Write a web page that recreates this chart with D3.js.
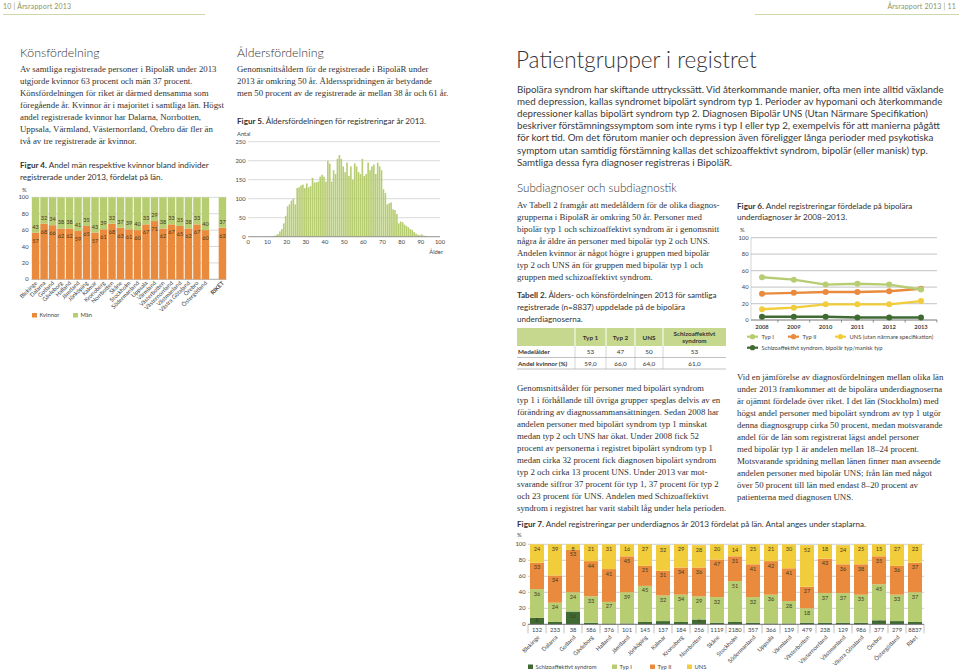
<!DOCTYPE html>
<html><head><meta charset="utf-8">
<script src="https://cdn.jsdelivr.net/npm/d3@7"></script>
<style>
body{margin:0;background:#fff}
svg{display:block}
.serif{font-family:"Liberation Serif","DejaVu Serif",serif;font-size:8.8px;fill:#333}
.h2{font-family:Lato,"Open Sans",sans-serif;font-weight:300;font-size:12.3px;fill:#333}
.h1{font-family:Lato,"Open Sans",sans-serif;font-weight:300;font-size:22.5px;fill:#333}
.body{font-family:Lato,"Open Sans",sans-serif;font-size:9.75px;fill:#3a3a3a}
.figt{font-family:Lato,"Open Sans",sans-serif;font-size:8.1px;fill:#333}
.ax{font-family:Lato,"Open Sans",sans-serif;font-size:5.8px;fill:#444}
.lab{font-family:Lato,"Open Sans",sans-serif;font-size:5.6px;fill:#4a3a20}
.hdr{font-family:Lato,"Open Sans",sans-serif;font-size:7px;fill:#8a9466;letter-spacing:0.2px}
.tab{font-family:Lato,"Open Sans",sans-serif;font-size:6.3px;fill:#333}
</style>
</head><body>
<svg id="c" width="959" height="671"></svg>
<script>
// ---------- DATA ----------
const lan4 = ["Blekinge","Dalarna","Gotland","Gävleborg","Halland","Jämtland","Jönköping","Kalmar","Kronoberg","Norrbotten","Skåne","Stockholm","Södermanland","Uppsala","Värmland","Västerbotten","Västernorrland","Västmanland","Västra Götaland","Örebro","Östergötland","RIKET"];
const kvinnor = [57,68,66,62,62,59,65,57,61,68,63,61,60,67,71,62,67,65,62,67,60,63];
const man = [43,32,34,38,38,41,35,43,39,32,37,39,40,33,29,38,33,35,38,33,40,37];
const pctTicks = [0,20,40,60,80,100];

const ageCounts = [0,0,0,0,0,0,0,0,0,0,0,1,1,2,4,7,14,20,35,55,80,
  85,95,100,85,128,130,135,137,128,140,
  130,133,155,143,143,145,158,163,158,145,
  200,192,145,175,165,205,215,205,185,170,
  195,160,185,150,193,185,170,165,205,160,
  165,195,175,185,190,165,195,185,175,125,
  115,85,88,90,72,70,60,35,40,38,
  32,28,25,20,18,12,8,5,4,6,
  3,2,1,0,0,0,0,0,0];
const ageTicks = [0,10,20,30,40,50,60,70,80,90,100];
const antalTicks = [0,50,100,150,200,250];

const years = [2008,2009,2010,2011,2012,2013];
const typI6 = [52,49,43,44,43,37];
const typII6 = [32,33,34,34,35,38];
const uns6 = [13,15,19,19,19,23];
const schizo6 = [4,4,4,3,3,3];

const lan7 = ["Blekinge","Dalarna","Gotland","Gävleborg","Halland","Jämtland","Jönköping","Kalmar","Kronoberg","Norrbotten","Skåne","Stockholm","Södermanland","Uppsala","Värmland","Västerbotten","Västernorrland","Västmanland","Västra Götaland","Örebro","Östergötland","Riket"];
const antal7 = [132,233,38,586,376,101,145,137,184,256,1119,2180,357,366,139,479,238,129,986,377,279,8837];
const schizo7 = [8,3,16,2,1,1,3,4,3,6,2,3,2,1,1,2,2,2,2,5,4,3];
const typI7 = [36,24,24,33,27,39,45,32,34,29,32,51,32,36,28,18,37,37,35,45,33,37];
const typII7 = [33,34,53,44,41,45,25,31,34,36,47,31,41,42,41,27,43,36,38,35,36,37];
const uns7 = [24,39,8,21,31,16,27,32,29,28,20,14,25,21,30,52,18,24,25,15,27,23];

const tabCols = ["Typ 1","Typ 2","UNS","Schizoaffektivt syndrom"];
const tabRows = ["Medelålder","Andel kvinnor (%)"];
const tabVals = [["53","47","50","53"],["59,0","66,0","64,0","61,0"]];

// ---------- COLOURS ----------
const cOrange = "#e98a3c", cGreen = "#b7cd72", cYellow = "#f2cd3b", cDark = "#3f6b33";
const cGrid = "#cfcfcf";

const svg = d3.select("#c");

function lines(x, y, lh, arr, cls){
  arr.forEach((t,i)=>svg.append("text").attr("class",cls).attr("x",x).attr("y",y+i*lh).text(t));
}
function figTitle(x, y, lh, bold, arr){
  arr.forEach((t,i)=>{
    const tx = svg.append("text").attr("class","figt").attr("x",x).attr("y",y+i*lh);
    if(i===0){ tx.append("tspan").attr("font-weight","bold").text(bold); }
    tx.append("tspan").text(t);
  });
}

// ---------- HEADER ----------
svg.append("text").attr("class","hdr").attr("x",3).attr("y",9).text("10 | Årsrapport 2013");
svg.append("text").attr("class","hdr").attr("x",956).attr("y",9).attr("text-anchor","end").text("Årsrapport 2013 | 11");
svg.append("line").attr("x1",3).attr("x2",205).attr("y1",14.5).attr("y2",14.5).attr("stroke","#cdd9a8").attr("stroke-width",1);
svg.append("line").attr("x1",755).attr("x2",959).attr("y1",14.5).attr("y2",14.5).attr("stroke","#cdd9a8").attr("stroke-width",1);

// ---------- LEFT COLUMN ----------
svg.append("text").attr("class","h2").attr("x",20).attr("y",56.5).text("Könsfördelning");
lines(20,72,12,[
 "Av samtliga registrerade personer i BipoläR under 2013",
 "utgjorde kvinnor 63 procent och män 37 procent.",
 "Könsfördelningen för riket är därmed densamma som",
 "föregående år. Kvinnor är i majoritet i samtliga län. Högst",
 "andel registrerade kvinnor har Dalarna, Norrbotten,",
 "Uppsala, Värmland, Västernorrland, Örebro där fler än",
 "två av tre registrerade är kvinnor."],"serif");
figTitle(20,168,12,"Figur 4.",[" Andel män respektive kvinnor bland individer","registrerade under 2013, fördelat på län."]);

(function fig4(){
  const domain = lan4.slice(0,21).concat(["__gap"], lan4.slice(21));
  const x = d3.scaleBand().domain(domain).range([31.5,226.5]).paddingInner(0.12).paddingOuter(0.04);
  const y = d3.scaleLinear().domain([0,100]).range([279.3,197.3]);
  svg.append("text").attr("class","ax").attr("x",22).attr("y",192).text("%");
  pctTicks.forEach(t=>{
    svg.append("line").attr("x1",31.5).attr("x2",226.5).attr("y1",y(t)).attr("y2",y(t)).attr("stroke",t===0?"#999":cGrid).attr("stroke-width",0.8);
    svg.append("text").attr("class","ax").attr("x",28.5).attr("y",y(t)+2).attr("text-anchor","end").text(t);
  });
  const g = svg.append("g");
  lan4.forEach((l,i)=>{
    const bx = x(l), bw = x.bandwidth();
    g.append("rect").attr("x",bx).attr("width",bw).attr("y",y(kvinnor[i])).attr("height",y(0)-y(kvinnor[i])).attr("fill",cOrange);
    g.append("rect").attr("x",bx).attr("width",bw).attr("y",y(100)).attr("height",y(kvinnor[i])-y(100)).attr("fill",cGreen);
    g.append("text").attr("class","lab").attr("x",bx+bw/2).attr("y",y(kvinnor[i])+10).attr("text-anchor","middle").text(kvinnor[i]);
    g.append("text").attr("class","lab").attr("x",bx+bw/2).attr("y",y(kvinnor[i])-4).attr("text-anchor","middle").text(man[i]);
    svg.append("text").attr("class","ax").attr("transform",`translate(${bx+bw/2+2},${283.5}) rotate(-45)`)
      .attr("text-anchor","end").attr("font-weight",l==="RIKET"?"bold":null).text(l);
  });
  svg.append("rect").attr("x",32).attr("y",313).attr("width",5).attr("height",4.5).attr("fill",cOrange);
  svg.append("text").attr("class","ax").attr("x",39.5).attr("y",317).text("Kvinnor");
  svg.append("rect").attr("x",73).attr("y",313).attr("width",5).attr("height",4.5).attr("fill",cGreen);
  svg.append("text").attr("class","ax").attr("x",80.5).attr("y",317).text("Män");
})();

// ---------- MIDDLE COLUMN ----------
svg.append("text").attr("class","h2").attr("x",237).attr("y",56.5).text("Åldersfördelning");
lines(237,72,12,[
 "Genomsnittsåldern för de registrerade i BipoläR under",
 "2013 är omkring 50 år. Åldersspridningen är betydande",
 "men 50 procent av de registrerade är mellan 38 år och 61 år."],"serif");
figTitle(237,124,12,"Figur 5.",[" Åldersfördelningen för registreringar år 2013."]);

(function fig5(){
  const x = d3.scaleLinear().domain([0,100]).range([248.3,440]);
  const y = d3.scaleLinear().domain([0,250]).range([236.7,141.7]);
  svg.append("text").attr("class","ax").attr("x",237).attr("y",136).text("Antal");
  antalTicks.forEach(t=>{
    svg.append("line").attr("x1",248.3).attr("x2",440).attr("y1",y(t)).attr("y2",y(t)).attr("stroke",cGrid).attr("stroke-width",0.8);
    svg.append("text").attr("class","ax").attr("x",245.5).attr("y",y(t)+2).attr("text-anchor","end").text(t);
  });
  const step = x(1)-x(0);
  ageCounts.forEach((v,a)=>{
    if(v<=0) return;
    svg.append("rect").attr("x",x(a)+0.15).attr("width",step-0.3).attr("y",y(v)).attr("height",y(0)-y(v)).attr("fill",cGreen);
  });
  svg.append("line").attr("x1",248.3).attr("x2",440).attr("y1",y(0)).attr("y2",y(0)).attr("stroke","#888").attr("stroke-width",0.8);
  ageTicks.forEach(t=>{
    svg.append("text").attr("class","ax").attr("x",x(t)).attr("y",244).attr("text-anchor","middle").text(t);
  });
  svg.append("text").attr("class","ax").attr("x",443).attr("y",254).attr("text-anchor","end").text("Ålder");
})();

// ---------- RIGHT PAGE ----------
svg.append("text").attr("class","h1").attr("x",516).attr("y",67.5).text("Patientgrupper i registret");
lines(517,92.5,12.2,[
 "Bipolära syndrom har skiftande uttryckssätt. Vid återkommande manier, ofta men inte alltid växlande",
 "med depression, kallas syndromet bipolärt syndrom typ 1. Perioder av hypomani och återkommande",
 "depressioner kallas bipolärt syndrom typ 2. Diagnosen Bipolär UNS (Utan Närmare Specifikation)",
 "beskriver förstämningssymptom som inte ryms i typ I eller typ 2, exempelvis för att manierna pågått",
 "för kort tid. Om det förutom manier och depression även föreligger långa perioder med psykotiska",
 "symptom utan samtidig förstämning kallas det schizoaffektivt syndrom, bipolär (eller manisk) typ.",
 "Samtliga dessa fyra diagnoser registreras i BipoläR."],"body");

svg.append("text").attr("class","h2").attr("x",517).attr("y",192).attr("font-size","11.6px").style("font-size","11.6px").text("Subdiagnoser och subdiagnostik");
lines(517,208,12,[
 "Av Tabell 2 framgår att medelåldern för de olika diagnos-",
 "grupperna i BipoläR är omkring 50 år. Personer med",
 "bipolär typ 1 och schizoaffektivt syndrom är i genomsnitt",
 "några år äldre än personer med bipolär typ 2 och UNS.",
 "Andelen kvinnor är något högre i gruppen med bipolär",
 "typ 2 och UNS än för gruppen med bipolär typ 1 och",
 "gruppen med schizoaffektivt syndrom."],"serif");
figTitle(517,298,12,"Tabell 2.",[" Ålders- och könsfördelningen 2013 för samtliga","registrerade (n=8837) uppdelade på de bipolära","underdiagnoserna."]);

(function table(){
  const colX = [517,575,606,635,663,726];
  const top = 328, hH = 18, rH = 11.5;
  svg.append("rect").attr("x",colX[0]).attr("y",top).attr("width",colX[5]-colX[0]).attr("height",hH).attr("fill","#c6d88e");
  for(let c=1;c<5;c++){
    svg.append("line").attr("x1",colX[c]).attr("x2",colX[c]).attr("y1",top).attr("y2",top+hH).attr("stroke","#fff").attr("stroke-width",1);
    svg.append("line").attr("x1",colX[c]).attr("x2",colX[c]).attr("y1",top+hH).attr("y2",top+hH+2*rH).attr("stroke","#bbb").attr("stroke-width",0.6);
  }
  tabCols.forEach((t,i)=>{
    const cx = (colX[i+1]+colX[i+2])/2;
    if(t.indexOf(" ")>0 && i===3){
      const parts = t.split(" ");
      svg.append("text").attr("class","tab").attr("font-weight","bold").attr("x",cx).attr("y",top+7.5).attr("text-anchor","middle").text(parts[0]);
      svg.append("text").attr("class","tab").attr("font-weight","bold").attr("x",cx).attr("y",top+14.5).attr("text-anchor","middle").text(parts[1]);
    } else {
      svg.append("text").attr("class","tab").attr("font-weight","bold").attr("x",cx).attr("y",top+11.5).attr("text-anchor","middle").text(t);
    }
  });
  tabRows.forEach((r,ri)=>{
    const yb = top+hH+ri*rH;
    svg.append("line").attr("x1",colX[0]).attr("x2",colX[5]).attr("y1",yb+rH).attr("y2",yb+rH).attr("stroke","#999").attr("stroke-width",0.6);
    svg.append("text").attr("class","tab").attr("font-weight","bold").attr("x",colX[0]+1).attr("y",yb+8).text(r);
    tabVals[ri].forEach((v,ci)=>{
      svg.append("text").attr("class","tab").attr("fill","#555").attr("x",(colX[ci+1]+colX[ci+2])/2).attr("y",yb+8).attr("text-anchor","middle").text(v);
    });
  });
})();

lines(517,391,12,[
 "Genomsnittsålder för personer med bipolärt syndrom",
 "typ 1 i förhållande till övriga grupper speglas delvis av en",
 "förändring av diagnossammansättningen. Sedan 2008 har",
 "andelen personer med bipolärt syndrom typ 1 minskat",
 "medan typ 2 och UNS har ökat. Under 2008 fick 52",
 "procent av personerna i registret bipolärt syndrom typ 1",
 "medan cirka 32 procent fick diagnosen bipolärt syndrom",
 "typ 2 och cirka 13 procent UNS. Under 2013 var mot-",
 "svarande siffror 37 procent för typ 1, 37 procent för typ 2",
 "och 23 procent för UNS. Andelen med Schizoaffektivt",
 "syndrom i registret har varit stabilt låg under hela perioden."],"serif");

figTitle(737,208.5,11.5,"Figur 6.",[" Andel registreringar fördelade på bipolära","underdiagnoser år 2008–2013."]);

(function fig6(){
  const x = d3.scalePoint().domain(years).range([762,921]);
  const y = d3.scaleLinear().domain([0,100]).range([320,237.7]);
  const half = (x(2009)-x(2008))/2;
  svg.append("text").attr("class","ax").attr("x",740).attr("y",232).text("%");
  pctTicks.forEach(t=>{
    if(t>0) svg.append("line").attr("x1",751).attr("x2",937).attr("y1",y(t)).attr("y2",y(t)).attr("stroke",cGrid).attr("stroke-width",1.2);
    svg.append("text").attr("class","ax").attr("x",748.5).attr("y",y(t)+2).attr("text-anchor","end").text(t);
  });
  svg.append("line").attr("x1",751).attr("x2",937).attr("y1",y(0)).attr("y2",y(0)).attr("stroke","#666").attr("stroke-width",0.9);
  svg.append("line").attr("x1",751).attr("x2",751).attr("y1",y(100)).attr("y2",y(0)).attr("stroke","#bbb").attr("stroke-width",0.6);
  years.forEach(yr=>{
    svg.append("line").attr("x1",x(yr)+half).attr("x2",x(yr)+half).attr("y1",y(0)).attr("y2",y(0)+2.5).attr("stroke","#666").attr("stroke-width",0.7);
    svg.append("text").attr("class","ax").attr("font-weight","bold").attr("x",x(yr)).attr("y",y(0)+8.5).attr("text-anchor","middle").text(yr);
  });
  const series = [[typII6,cOrange],[uns6,cYellow],[schizo6,cDark],[typI6,cGreen]];
  const line = d3.line().x((d,i)=>x(years[i])).y(d=>y(d));
  series.forEach(([vals,col])=>{
    svg.append("path").attr("d",line(vals)).attr("fill","none").attr("stroke",col).attr("stroke-width",2.4);
    vals.forEach((v,i)=>svg.append("circle").attr("cx",x(years[i])).attr("cy",y(v)).attr("r",3).attr("fill",col));
  });
  const leg = [["Typ I",cGreen,747,336.7],["Typ II",cOrange,788,336.7],["UNS (utan närmare specifikation)",cYellow,835,336.7],["Schizoaffektivt syndrom, bipolär typ/manisk typ",cDark,747,347.7]];
  leg.forEach(([t,col,lx,ly])=>{
    svg.append("line").attr("x1",lx).attr("x2",lx+11).attr("y1",ly).attr("y2",ly).attr("stroke",col).attr("stroke-width",2.2);
    svg.append("circle").attr("cx",lx+5.5).attr("cy",ly).attr("r",2.6).attr("fill",col);
    svg.append("text").attr("class","ax").attr("font-size","5.4px").attr("x",lx+14.5).attr("y",ly+2).text(t);
  });
})();

lines(737,380,12,[
 "Vid en jämförelse av diagnosfördelningen mellan olika län",
 "under 2013 framkommer att de bipolära underdiagnoserna",
 "är ojämnt fördelade över riket. I det län (Stockholm) med",
 "högst andel personer med bipolärt syndrom av typ 1 utgör",
 "denna diagnosgrupp cirka 50 procent, medan motsvarande",
 "andel för de län som registrerat lägst andel personer",
 "med bipolär typ 1 är andelen mellan 18–24 procent.",
 "Motsvarande spridning mellan länen finner man avseende",
 "andelen personer med bipolär UNS; från län med något",
 "över 50 procent till län med endast 8–20 procent av",
 "patienterna med diagnosen UNS."],"serif");

figTitle(517,527,12,"Figur 7.",[" Andel registreringar per underdiagnos år 2013 fördelat på län. Antal anges under staplarna."]);

(function fig7(){
  const x = d3.scaleBand().domain(lan7).range([528,924]).paddingInner(0.22).paddingOuter(0.11);
  const y = d3.scaleLinear().domain([0,100]).range([624.3,544.3]);
  svg.append("text").attr("class","ax").attr("x",517).attr("y",537).text("%");
  pctTicks.forEach(t=>{
    if(t>0) svg.append("line").attr("x1",528).attr("x2",924).attr("y1",y(t)).attr("y2",y(t)).attr("stroke",cGrid).attr("stroke-width",1);
    svg.append("text").attr("class","ax").attr("x",525.5).attr("y",y(t)+2).attr("text-anchor","end").text(t);
  });
  const segs = [[schizo7,cDark],[typI7,cGreen],[typII7,cOrange],[uns7,cYellow]];
  const step = x.step();
  lan7.forEach((l,i)=>{
    const bx = x(l), bw = x.bandwidth();
    let acc = 0;
    segs.forEach(([vals,col],si)=>{
      const v = vals[i];
      const y0 = y(acc), y1 = y(Math.min(100,acc+v));
      svg.append("rect").attr("x",bx).attr("width",bw).attr("y",y1).attr("height",y0-y1).attr("fill",col);
      let ly = Math.min(y1+6.5, 622);
      if(si===0) ly = Math.min(y1+6.5, 621.5);
      svg.append("text").attr("class","lab").attr("x",bx+bw/2).attr("y",ly).attr("text-anchor","middle")
        .attr("fill",(si===0 && v>=4)?"#fff":"#4a3a20").text(v);
      acc += v;
    });
    const cx = bx+bw/2;
    svg.append("line").attr("x1",cx+step/2).attr("x2",cx+step/2).attr("y1",y(0)).attr("y2",y(0)+9).attr("stroke","#999").attr("stroke-width",0.6);
    if(i===0) svg.append("line").attr("x1",cx-step/2).attr("x2",cx-step/2).attr("y1",y(0)).attr("y2",y(0)+9).attr("stroke","#999").attr("stroke-width",0.6);
    svg.append("text").attr("class","ax").attr("x",cx).attr("y",y(0)+7.3).attr("text-anchor","middle").text(antal7[i]);
    svg.append("text").attr("class","ax").attr("transform",`translate(${cx+3},${y(0)+13.5}) rotate(-45)`).attr("text-anchor","end").text(l);
  });
  svg.append("line").attr("x1",528).attr("x2",924).attr("y1",y(0)).attr("y2",y(0)).attr("stroke","#666").attr("stroke-width",0.9);
  const leg = [["Schizoaffektivt syndrom",cDark,528],["Typ I",cGreen,612],["Typ II",cOrange,650],["UNS",cYellow,687]];
  leg.forEach(([t,col,lx])=>{
    svg.append("rect").attr("x",lx).attr("y",664.5).attr("width",5).attr("height",4.5).attr("fill",col);
    svg.append("text").attr("class","ax").attr("x",lx+7.5).attr("y",669).text(t);
  });
})();
</script>
</body></html>
